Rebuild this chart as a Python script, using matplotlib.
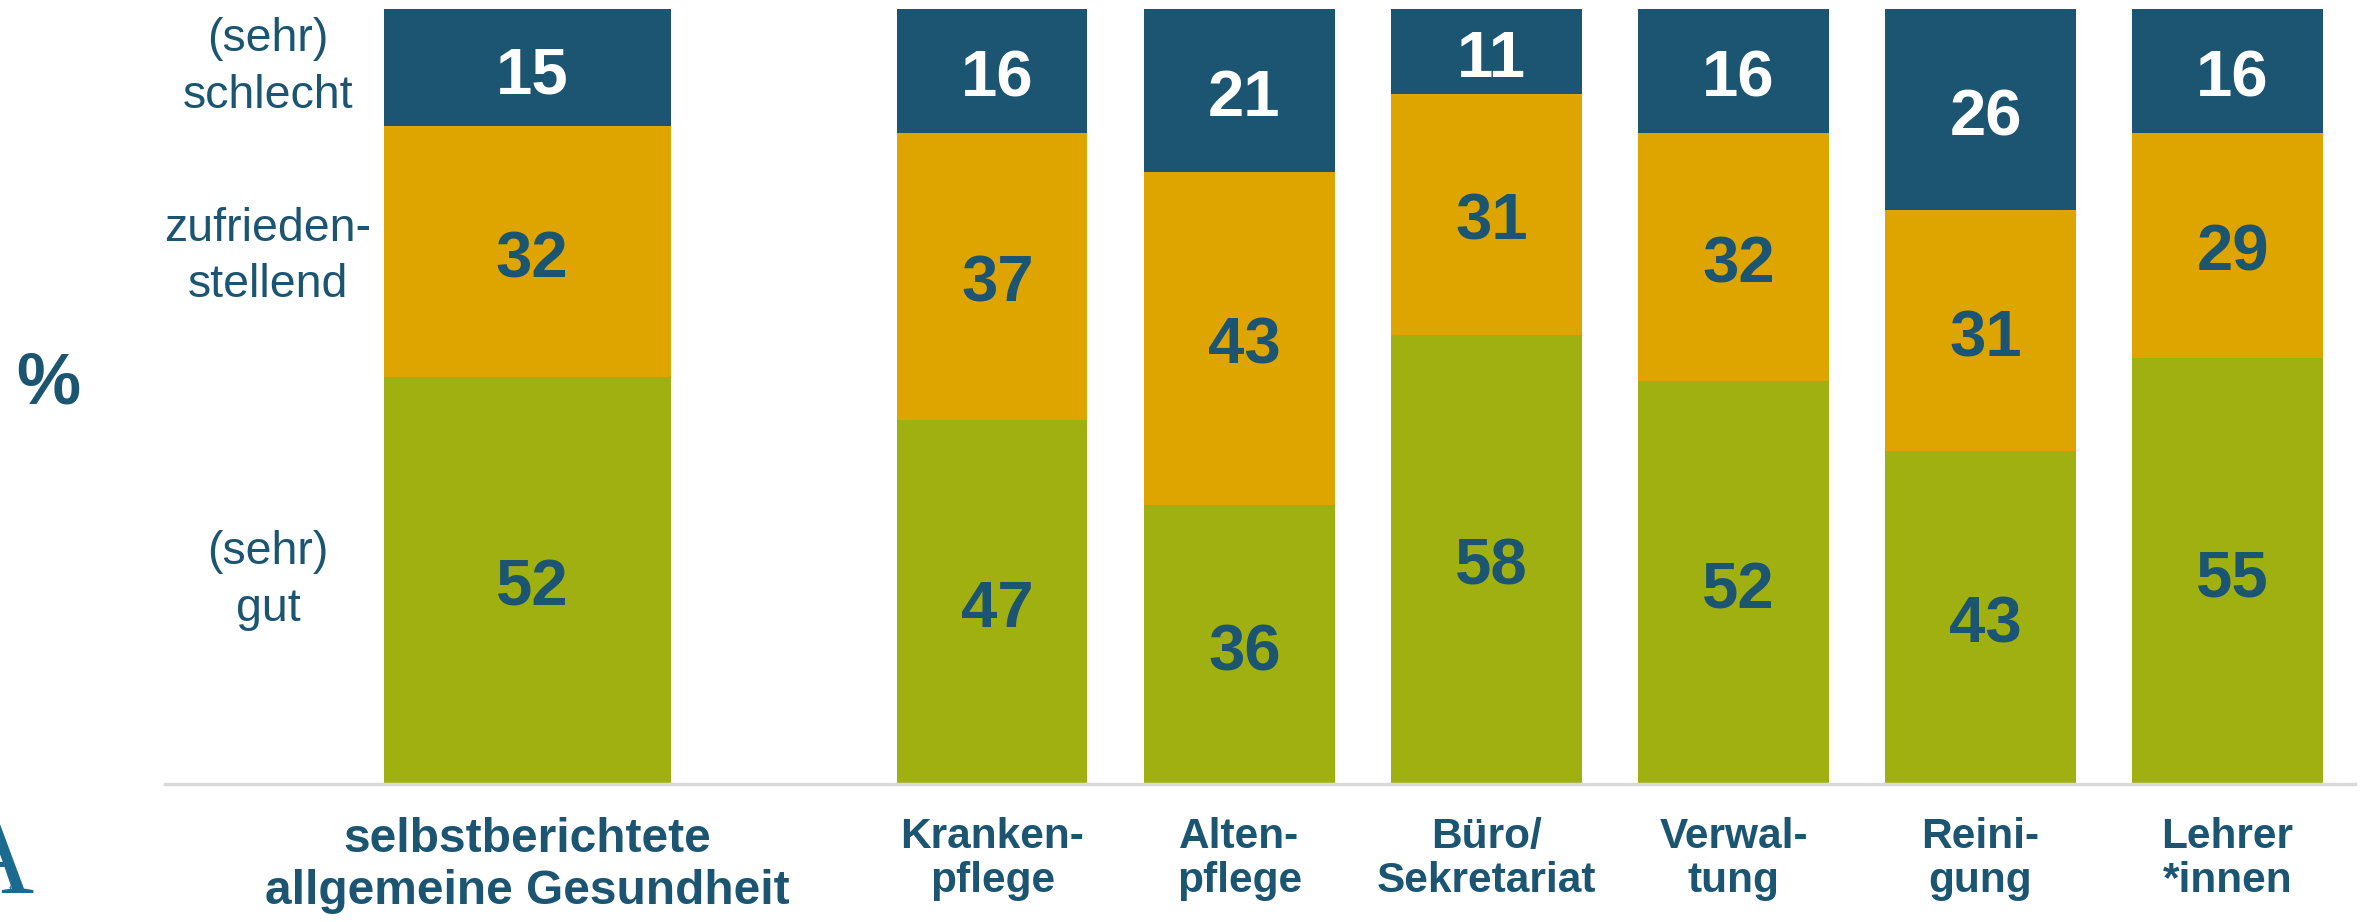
import matplotlib.pyplot as plt

# data (percent)
categories = ['selbstberichtete\nallgemeine Gesundheit', 'Kranken-\npflege', 'Alten-\npflege',
              'Büro/\nSekretariat', 'Verwal-\ntung', 'Reini-\ngung', 'Lehrer\n*innen']
gut = [52, 47, 36, 58, 52, 43, 55]
zufrieden = [32, 37, 43, 31, 32, 31, 29]
schlecht = [15, 16, 21, 11, 16, 26, 16]
level_labels = ['(sehr)\ngut', 'zufrieden-\nstellend', '(sehr)\nschlecht']
level_y = [26.3, 68.0, 92.4]

c_dark = '#1B5572'
c_orange = '#DEA500'
c_green = '#A0B011'
c_text = '#1B5572'

plt.rcParams['font.family'] = ['Liberation Sans', 'DejaVu Sans']

fig = plt.figure(figsize=(23.62, 9.22), dpi=100)
ax = fig.add_axes([0, 1 - 784 / 922, 1, (784 - 9) / 922])

# bar positions (first bar wider and set apart)
xpos = [0] + [1.883 + i for i in range(6)]
widths = [1.162] + [0.77] * 6

for i in range(len(categories)):
    total = gut[i] + zufrieden[i] + schlecht[i]
    segs = [gut[i], zufrieden[i], schlecht[i]]
    bottom = 0
    for v, col in zip(segs, [c_green, c_orange, c_dark]):
        h = v / total * 100
        ax.bar(xpos[i], h, width=widths[i], bottom=bottom, color=col, linewidth=0)
        tc = 'white' if col == c_dark else c_text
        ax.text(xpos[i] + 0.02, bottom + h / 2 - 1.1, str(v), ha='center', va='center',
                fontsize=47, fontweight='bold', color=tc)
        bottom += h
    fs = 34.5 if i == 0 else 30.5
    ls = 1.2 if i == 0 else 1.12
    ax.text(xpos[i], -4.3, categories[i], ha='center', va='top', fontsize=fs,
            fontweight='bold', color=c_text, linespacing=ls)

ax.set_xlim(-2.134, 7.427)
ax.set_ylim(0, 100)
ax.axis('off')
ax.plot([-1.466, 7.40], [0, 0], color='#D9D9D9', lw=2.5, clip_on=False)

# level labels on the left
lx = (268 - 527) / 247
for lab, yy in zip(level_labels, level_y):
    ax.text(lx, yy, lab, ha='center', va='center', fontsize=33.5,
            color=c_text, linespacing=1.38)

fig.text(48 / 2362, 1 - 384 / 922, '%', ha='center', va='center', fontsize=52,
         fontweight='bold', color=c_text)
# partially visible logo
fig.text(34 / 2362, 1 - 893 / 922, 'A', ha='right', va='baseline', fontsize=82,
         family='Liberation Serif', color='#1B6A8F')
fig.text(12 / 2362, 1 - 893 / 922, 't', ha='right', va='baseline', fontsize=9,
         family='Liberation Serif', color='#1B6A8F')

fig.savefig('out.png', dpi=100)
